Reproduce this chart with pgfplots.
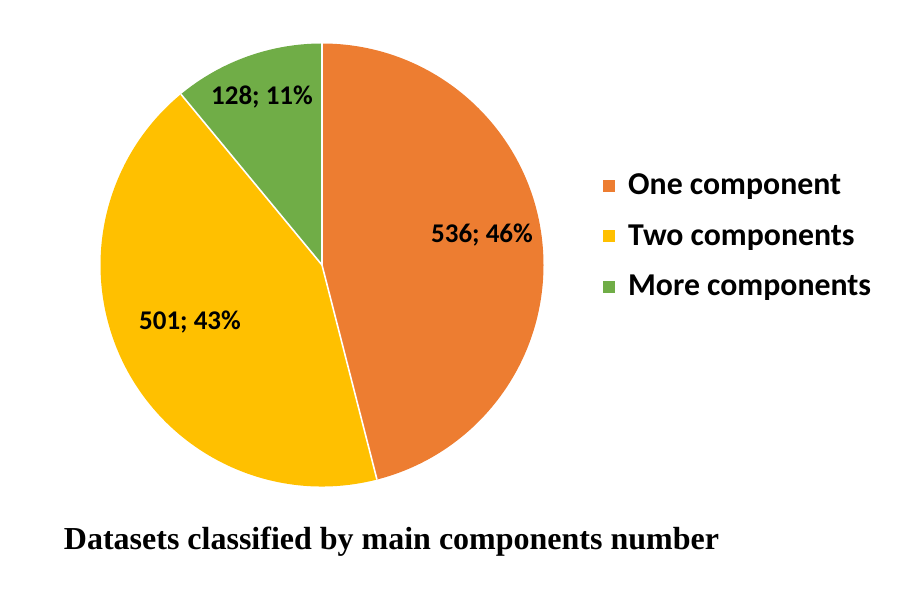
\documentclass[border=0pt]{standalone}
\usepackage{pgfplots}
\pgfplotsset{compat=1.18}
\usepackage{fontspec}
\setmainfont{Liberation Serif}
\newfontfamily\carlito{Carlito}
\definecolor{cOne}{HTML}{ED7D31}
\definecolor{cTwo}{HTML}{FFC000}
\definecolor{cMore}{HTML}{70AD47}
% data
\def\vOne{536}
\def\vTwo{501}
\def\vMore{128}
\pgfmathsetmacro\vTot{\vOne+\vTwo+\vMore}
\pgfmathsetmacro\aA{90}
\pgfmathsetmacro\aB{90-360*(\vOne/\vTot)}
\pgfmathsetmacro\aC{\aB-360*(\vTwo/\vTot)}
\pgfmathsetmacro\aD{90-360}
\begin{document}
\begin{tikzpicture}
\begin{axis}[
  width=900pt, height=601pt, scale only axis,
  xmin=0, xmax=900, ymin=0, ymax=601,
  hide axis, clip=false,
]
\addplot[draw=none] coordinates {(0,0) (900,601)};
% slices
\fill[cOne]  (axis cs:322,336) -- ++(\aA:221.5pt) arc[start angle=\aA, end angle=\aB, radius=221.5pt] -- cycle;
\fill[cTwo]  (axis cs:322,336) -- ++(\aB:221.5pt) arc[start angle=\aB, end angle=\aC, radius=221.5pt] -- cycle;
\fill[cMore] (axis cs:322,336) -- ++(\aC:221.5pt) arc[start angle=\aC, end angle=\aD, radius=221.5pt] -- cycle;
\draw[white, line width=1.6pt] (axis cs:322,336) -- ++(\aA:221.5pt);
\draw[white, line width=1.6pt] (axis cs:322,336) -- ++(\aB:221.5pt);
\draw[white, line width=1.6pt] (axis cs:322,336) -- ++(\aC:221.5pt);
% labels
\node[anchor=base, font=\carlito\bfseries\fontsize{27}{32}\selectfont] at (axis cs:482,358) {536; 46\%};
\node[anchor=base, font=\carlito\bfseries\fontsize{27}{32}\selectfont] at (axis cs:190,271) {501; 43\%};
\node[anchor=base, font=\carlito\bfseries\fontsize{27}{32}\selectfont] at (axis cs:262,496) {128; 11\%};
% legend
\fill[cOne]  (axis cs:603,409) rectangle (axis cs:615,421);
\fill[cTwo]  (axis cs:603,358.5) rectangle (axis cs:615,370.5);
\fill[cMore] (axis cs:603,308) rectangle (axis cs:615,320);
\node[anchor=base west, inner sep=0pt, font=\carlito\bfseries\fontsize{31.8}{38}\selectfont] at (axis cs:628,406) {One component};
\node[anchor=base west, inner sep=0pt, font=\carlito\bfseries\fontsize{31.8}{38}\selectfont] at (axis cs:628,355.5) {Two components};
\node[anchor=base west, inner sep=0pt, font=\carlito\bfseries\fontsize{31.8}{38}\selectfont] at (axis cs:628,305) {More components};
% title
\node[anchor=base, inner sep=0pt, font=\bfseries\fontsize{32}{38}\selectfont] at (axis cs:391.5,51) {Datasets classified by main components number};
\end{axis}
\end{tikzpicture}
\end{document}
